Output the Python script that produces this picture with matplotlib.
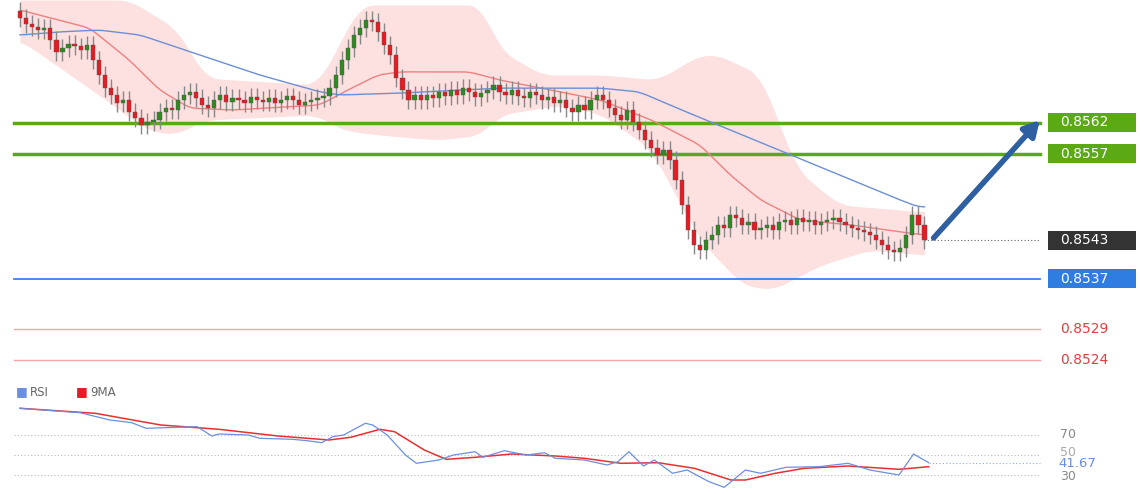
import matplotlib.pyplot as plt
from matplotlib.patches import Rectangle
import numpy as np

# prices in points above 0.85000 (1 point = 0.00001)
close = [787, 778, 773, 768, 771, 752, 733, 739, 746, 742, 736, 744, 720, 696, 675, 664, 651, 656, 637, 627, 616, 621,
         624, 637, 643, 640, 656, 664, 669, 659, 648, 643, 656, 664, 653, 659, 656, 651, 661, 656, 653, 659, 651, 656,
         662, 656, 648, 653, 656, 659, 662,
         675, 696, 720, 739, 760, 771, 784, 781,
         765, 744, 728, 691, 672, 656, 664,
         656, 664, 659, 669, 662, 672, 664, 675, 669, 661, 667, 672, 680, 669, 664, 672, 662, 659, 669, 664, 656,
         661, 651, 656, 643, 637, 648, 640, 656, 664, 656, 643, 632,
         624, 640, 621, 608, 592, 579, 568, 576, 560, 528, 488, 448, 424, 416, 432, 440, 456, 451, 472,
         467, 456, 461, 448, 451, 456, 448, 461, 464, 456, 467, 461, 464, 456, 461, 464, 467, 461, 456, 451, 448,
         445, 440, 432, 424, 416, 413, 419, 440, 472, 456, 432]
open_ = [close[0] + 12] + close[:-1]

band_i = [0, 18, 26, 30.5, 49, 53, 56, 76, 79, 86, 96, 105, 112, 115, 122, 128, 135, 145, 149]
band_up = [816, 816, 768, 691, 680, 752, 808, 808, 736, 696, 696, 688, 728, 728, 696, 544, 488, 480, 477]
low_i = [0, 13, 21, 25.5, 30.5, 49, 53, 59, 69, 76, 79, 89, 96, 104, 112, 119, 124, 132, 140, 149]
band_lo = [752, 664, 608, 600, 624, 632, 608, 600, 592, 600, 632, 648, 632, 576, 432, 360, 352, 392, 416, 408]

ma_red_i = [0, 11.5, 18, 23, 28, 35, 49.4, 54, 59, 62.6, 74, 79, 89, 95.6, 104, 112, 117, 122, 128.5, 137, 145, 149]
ma_red = [800, 771, 720, 672, 643, 640, 648, 672, 696, 701, 701, 688, 669, 656, 624, 584, 536, 496, 464, 456, 445, 440]
ma_blue_i = [0, 6.6, 13, 19.8, 29.6, 39.5, 49.4, 52.7, 62.6, 79, 95.6, 102, 109, 115, 125, 135, 145, 148]
ma_blue = [760, 765, 768, 760, 728, 696, 669, 664, 667, 675, 675, 669, 640, 616, 576, 536, 496, 485]

rsi_i = [0, 9.9, 14.8, 18.4, 20.8, 29.2, 31.6, 32.8, 37.6, 39.5, 44.9, 47.3, 49.7, 51.5, 53.3, 56.9, 58.1, 60.5,
         63.5, 65.3, 69, 71.4, 75, 76.2, 79.8, 83.4, 86.4, 88.2, 93, 96.7, 98.5, 100.3, 102.7, 104.5, 107.5, 109.9,
         113.5, 116, 119.5, 122, 126.2, 131.6, 136.4, 140, 144.8, 147.2, 149.7]
rsi = [96.7, 92.3, 85, 82.3, 76.7, 78.3, 69, 71, 70, 66.7, 65.7, 64.3, 62.3, 68.3, 70, 81.7, 80, 70,
       50, 41.7, 45, 50, 53.3, 47.7, 54.3, 50, 52.3, 46.7, 45, 40, 43.3, 53.3, 39, 45, 31.7, 35,
       23.3, 17.7, 35, 31.7, 37.7, 38.3, 41.7, 35, 30, 51, 42.3]
rsi_ma_i = [0, 12.4, 23.2, 32.8, 42.5, 50.9, 54.5, 59.3, 61.7, 66.6, 70.2, 75, 81, 88.2, 93, 99, 105.1, 111.1,
            117.1, 119.5, 124.4, 129.2, 136.4, 144.8, 149.7]
rsi_ma = [96.7, 91.7, 80, 75.7, 69, 65, 67.7, 75.7, 73.3, 55, 45.7, 47.7, 51, 49, 46.7, 41.7, 42.3, 36.7,
          25, 25, 31.7, 36.7, 39, 35.7, 38.3]

resistances = [620, 570]
support = 370
lower_levels = [290, 240]
last_price = 432
arrow_target = 627

GREEN = '#5aa915'
XL = (-3.29, 184.5)
YL = (208, 816)


def smooth(xs, ys, grid, k=9):
    v = np.interp(grid, xs, ys)
    pad = np.pad(v, k // 2, mode='edge')
    return np.convolve(pad, np.ones(k) / k, mode='valid')


fig = plt.figure(figsize=(11.4, 5), dpi=100)
ax = fig.add_axes([0, 0.24, 1, 0.76])
ax.set_xlim(*XL)
ax.set_ylim(*YL)
ax.axis('off')

grid = np.linspace(0, 149, 300)
ax.fill_between(grid, smooth(band_i, band_up, grid), smooth(low_i, band_lo, grid),
                color='#fde0e0', lw=0, zorder=0)
ax.plot(grid, smooth(ma_red_i, ma_red, grid, 5), color='#f08080', lw=1, zorder=2)
ax.plot(grid, smooth(ma_blue_i, ma_blue, grid, 5), color='#6b8fd6', lw=1, zorder=2)

for i, (o, c) in enumerate(zip(open_, close)):
    col = '#2f8a22' if c > o else '#e51c23'
    lo, hi = min(o, c), max(o, c)
    ax.vlines(i, lo - 14, hi + 14, color='#888888', lw=1, zorder=3)
    ax.bar(i, max(hi - lo, 3), bottom=lo, width=0.7, color=col, edgecolor='#555555', lw=0.3, zorder=4)

x0 = 14 / 1140
x1 = 1040 / 1140
for lv in resistances:
    ax.axhline(lv, xmin=x0, xmax=x1, color=GREEN, lw=2.5, zorder=1)
ax.axhline(support, xmin=x0, xmax=x1, color='#3d7fe8', lw=1.3, zorder=1)
for lv in lower_levels:
    ax.axhline(lv, xmin=x0, xmax=x1, color='#f4a6a6', lw=1, zorder=1)
ax.plot([len(close) - 1, 168], [last_price, last_price], color='#666666', lw=0.8, ls=(0, (1, 2)))

ax.annotate('', xy=(168.3, arrow_target), xytext=(150.2, last_price),
            arrowprops=dict(arrowstyle='-|>,head_length=0.9,head_width=0.5', color='#2e5fa0', lw=4))

span = YL[1] - YL[0]


def tag(y, txt, fc, tc='white'):
    yy = (y - YL[0]) / span
    if fc:
        ax.add_patch(Rectangle((1048 / 1140, yy - 9.5 / 380), 88 / 1140, 19 / 380, transform=ax.transAxes,
                               fc=fc, ec='none', clip_on=False))
    ax.text(1060 / 1140, yy, txt, transform=ax.transAxes, va='center', ha='left', color=tc, fontsize=10)


tag(620, '0.8562', GREEN)
tag(570, '0.8557', GREEN)
tag(last_price, '0.8543', '#333333')
tag(support, '0.8537', '#2f7de1')
tag(290, '0.8529', None, '#e04040')
tag(240, '0.8524', None, '#e04040')

# RSI panel
ax2 = fig.add_axes([0, 0.0, 1, 0.23])
ax2.set_xlim(*XL)
ax2.set_ylim(5, 120)
ax2.axis('off')
for lv in [70, 50, 30]:
    ax2.axhline(lv, xmin=x0, xmax=1040 / 1140, color='#bbbbbb', lw=0.8, ls=(0, (1, 2)))
ax2.plot([149.7, 168], [41.67, 41.67], color='#8fa8e0', lw=0.8, ls=(0, (1, 2)))
ax2.plot(rsi_ma_i, rsi_ma, color='#e83030', lw=1.1)
ax2.plot(rsi_i, rsi, color='#6b8fe0', lw=0.9)
tr = ax2.get_yaxis_transform()
for v, t, c in [(70, '70', '#888888'), (53, '50', '#aaaaaa'), (29, '30', '#888888')]:
    ax2.text(1060 / 1140, v, t, transform=tr, va='center', fontsize=9, color=c)
ax2.text(1058 / 1140, 41.67, '41.67', transform=tr, va='center', fontsize=9.5, color='#6b8fe0',
         bbox=dict(boxstyle='square,pad=0.1', fc='white', ec='none'))
ax2.text(16 / 1140, 113, '■', color='#6b8fe0', fontsize=9, va='center', transform=tr)
ax2.text(30 / 1140, 113, 'RSI', color='#666666', fontsize=8.5, va='center', transform=tr)
ax2.text(76 / 1140, 113, '■', color='#e51c23', fontsize=9, va='center', transform=tr)
ax2.text(90 / 1140, 113, '9MA', color='#666666', fontsize=8.5, va='center', transform=tr)

fig.savefig('out.png', dpi=100, facecolor='white')
